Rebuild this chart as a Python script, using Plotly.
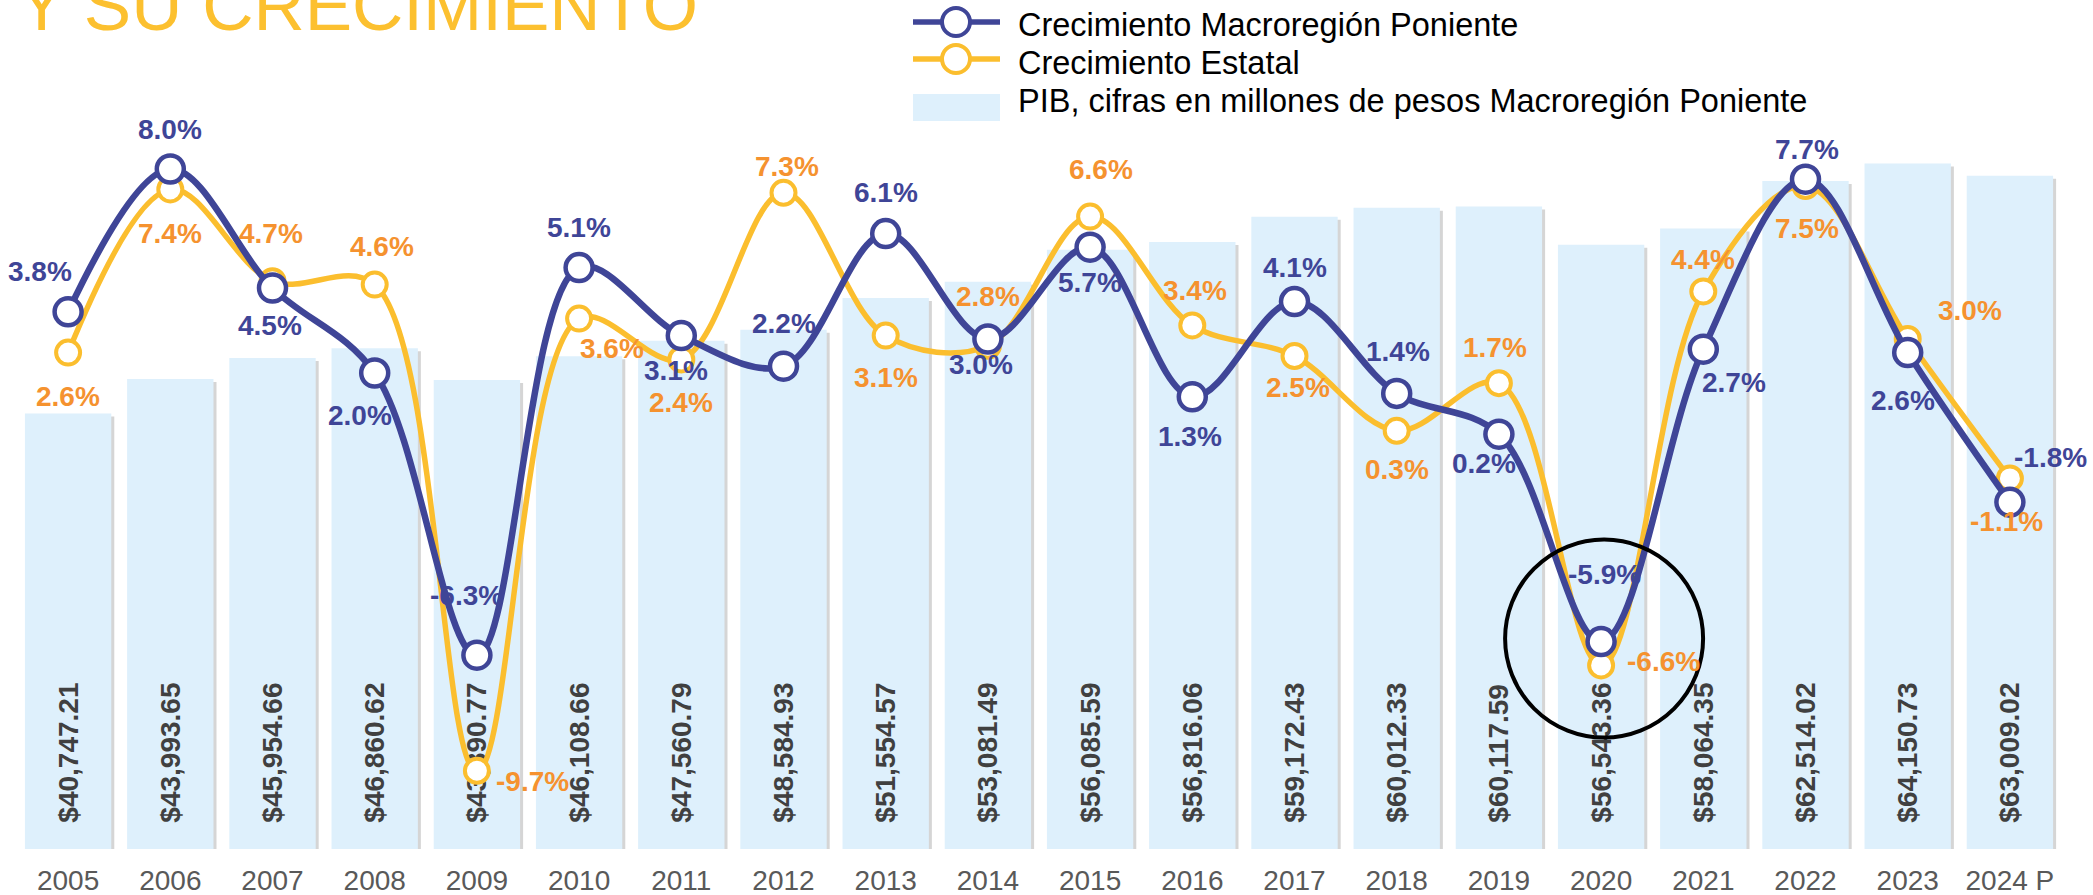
import plotly.graph_objects as go

# ---------------- data ----------------
years = ["2005", "2006", "2007", "2008", "2009", "2010", "2011", "2012", "2013", "2014",
         "2015", "2016", "2017", "2018", "2019", "2020", "2021", "2022", "2023", "2024 P"]
pib_poniente = [40747.21, 43993.65, 45954.66, 46860.62, 43890.77, 46108.66, 47560.79, 48584.93,
                51554.57, 53081.49, 56085.59, 56816.06, 59172.43, 60012.33, 60117.59, 56543.36,
                58064.35, 62514.02, 64150.73, 63009.02]
crec_poniente = [3.8, 8.0, 4.5, 2.0, -6.3, 5.1, 3.1, 2.2, 6.1, 3.0,
                 5.7, 1.3, 4.1, 1.4, 0.2, -5.9, 2.7, 7.7, 2.6, -1.8]
crec_estatal = [2.6, 7.4, 4.7, 4.6, -9.7, 3.6, 2.4, 7.3, 3.1, 2.8,
                6.6, 3.4, 2.5, 0.3, 1.7, -6.6, 4.4, 7.5, 3.0, -1.1]

title_text = "Y SU CRECIMIENTO"
name_poniente = "Crecimiento Macroregión Poniente"
name_estatal = "Crecimiento Estatal"
name_pib = "PIB, cifras en millones de pesos Macroregión Poniente"

# ---------------- styles ----------------
BLUE = "#3F4597"
YELLOW = "#FBBE2E"
ORANGE_TXT = "#F5922F"
BAR = "#DEF0FC"
FONT = "Liberation Sans, Arial, sans-serif"

W, H = 2093, 895
ML, MR, MT, MB = 17, 32, 101, 46
PW, PH = W - ML - MR, H - MT - MB
BAR_RANGE = [0, 70000]
GROWTH_RANGE = [-12, 10]
BAR_WIDTH = 0.845


def px_x(X):
    return (X - ML) / PW


def px_y(Y):
    return (H - MB - Y) / PH


# bar shadow offsets (px -> axis units)
SH_DX = 3 * len(years) / PW
SH_DY = 3 * (BAR_RANGE[1] - BAR_RANGE[0]) / PH

# label offsets in px (dx right, dy down) relative to each point
off_poniente = [(-28, -40), (0, -40), (-3, 37), (-15, 42), (-10, -60), (0, -40), (-5, 35), (0, -43),
                (0, -41), (-7, 25), (0, 35), (-2, 40), (0, -34), (1, -42), (-15, 29), (3, -67),
                (31, 33), (1, -30), (-5, 48), (41, -45)]
off_estatal = [(0, 44), (0, 44), (-2, -48), (7, -38), (56, 11), (33, 30), (0, 43), (3, -26),
               (0, 42), (0, -49), (11, -47), (3, -35), (3, 31), (0, 39), (-4, -36), (62, -4),
               (0, -32), (1, 42), (62, -29), (-3, 43)]

xpos = list(range(len(years)))

fig = go.Figure()

# soft shadow under the bars
fig.add_trace(go.Bar(
    x=xpos, y=pib_poniente, base=-SH_DY, yaxis="y",
    marker=dict(color="rgba(150,150,150,0.40)", line=dict(width=0)),
    width=BAR_WIDTH, offset=-BAR_WIDTH / 2 + SH_DX,
    showlegend=False, hoverinfo="skip",
))

fig.add_trace(go.Bar(
    x=xpos, y=pib_poniente, name=name_pib, yaxis="y",
    marker=dict(color=BAR, line=dict(width=0)),
    width=BAR_WIDTH, offset=-BAR_WIDTH / 2,
    texttemplate="\u00a0\u00a0\u00a0$%{y:,.2f}",
    textposition="inside", insidetextanchor="start", textangle=-90,
    textfont=dict(family=FONT, size=28, color="#404040", weight="bold"),
    insidetextfont=dict(family=FONT, size=28, color="#404040", weight="bold"),
    constraintext="none",
    showlegend=False, hoverinfo="skip",
))

fig.add_trace(go.Scatter(
    x=xpos, y=crec_estatal, name=name_estatal, yaxis="y2", mode="lines+markers",
    line=dict(color=YELLOW, width=5.5, shape="spline", smoothing=1.0),
    marker=dict(symbol="circle", size=24, color="white", line=dict(color=YELLOW, width=4)),
    showlegend=False, hoverinfo="skip",
))

fig.add_trace(go.Scatter(
    x=xpos, y=crec_poniente, name=name_poniente, yaxis="y2", mode="lines+markers",
    line=dict(color=BLUE, width=6.5, shape="spline", smoothing=1.0),
    marker=dict(symbol="circle", size=27, color="white", line=dict(color=BLUE, width=4.5)),
    showlegend=False, hoverinfo="skip",
))

annotations = []
for i, v, (dx, dy) in zip(xpos, crec_poniente, off_poniente):
    annotations.append(dict(x=i, y=v, xref="x", yref="y2", text=f"{v:.1f}%", showarrow=False,
                            xshift=dx, yshift=-dy, xanchor="center", yanchor="middle",
                            font=dict(family=FONT, size=28, color=BLUE, weight="bold")))
for i, v, (dx, dy) in zip(xpos, crec_estatal, off_estatal):
    annotations.append(dict(x=i, y=v, xref="x", yref="y2", text=f"{v:.1f}%", showarrow=False,
                            xshift=dx, yshift=-dy, xanchor="center", yanchor="middle",
                            font=dict(family=FONT, size=28, color=ORANGE_TXT, weight="bold")))
# title (cut at the top edge as in the reference)
annotations.append(dict(x=px_x(16), y=px_y(47), xref="paper", yref="paper", text=title_text,
                        showarrow=False, xanchor="left", yanchor="bottom",
                        font=dict(family=FONT, size=71, color="#FCC02F")))

shapes = []
# custom legend
legend_rows = [(name_poniente, BLUE, 22, 25), (name_estatal, YELLOW, 59, 63)]
for name, col, ly, ty in legend_rows:
    shapes.append(dict(type="line", xref="paper", yref="paper",
                       x0=px_x(913), x1=px_x(1000), y0=px_y(ly), y1=px_y(ly),
                       line=dict(color=col, width=5.5), layer="above"))
    shapes.append(dict(type="circle", xref="paper", yref="paper",
                       x0=px_x(942), x1=px_x(970), y0=px_y(ly + 14), y1=px_y(ly - 14),
                       fillcolor="white", line=dict(color=col, width=4), layer="above"))
    annotations.append(dict(x=px_x(1016), y=px_y(ty), xref="paper", yref="paper", text=name,
                            showarrow=False, xanchor="left", yanchor="middle",
                            font=dict(family=FONT, size=32.5, color="black")))
shapes.append(dict(type="rect", xref="paper", yref="paper",
                   x0=px_x(913), x1=px_x(1000), y0=px_y(121), y1=px_y(94),
                   fillcolor=BAR, line=dict(width=0), layer="above"))
annotations.append(dict(x=px_x(1016), y=px_y(101), xref="paper", yref="paper", text=name_pib,
                        showarrow=False, xanchor="left", yanchor="middle",
                        font=dict(family=FONT, size=32.5, color="black")))

# highlight circle around 2020
i2020 = years.index("2020")
shapes.append(dict(type="circle", xref="x", yref="y2", xsizemode="pixel", ysizemode="pixel",
                   xanchor=xpos[i2020], yanchor=crec_poniente[i2020],
                   x0=-96, x1=102, y0=-96, y1=102,
                   line=dict(color="black", width=4), layer="above"))

fig.update_layout(
    width=W, height=H,
    margin=dict(l=ML, r=MR, t=MT, b=MB, autoexpand=False),
    paper_bgcolor="white", plot_bgcolor="white",
    showlegend=False,
    barmode="overlay",
    xaxis=dict(range=[-0.5, len(years) - 0.5], tickmode="array", tickvals=xpos, ticktext=years,
               showgrid=False, zeroline=False, showline=False, automargin=False,
               tickfont=dict(family=FONT, size=28, color="#595959"),
               ticks="", ticklabelstandoff=12, fixedrange=True),
    yaxis=dict(range=BAR_RANGE, visible=False, fixedrange=True, automargin=False),
    yaxis2=dict(range=GROWTH_RANGE, overlaying="y", side="right", visible=False,
                fixedrange=True, automargin=False),
    annotations=annotations,
    shapes=shapes,
    hovermode=False,
)

fig.write_html("out.html", config={"displayModeBar": False},
               post_script="document.body.style.margin='0px';document.body.style.overflow='hidden';")
